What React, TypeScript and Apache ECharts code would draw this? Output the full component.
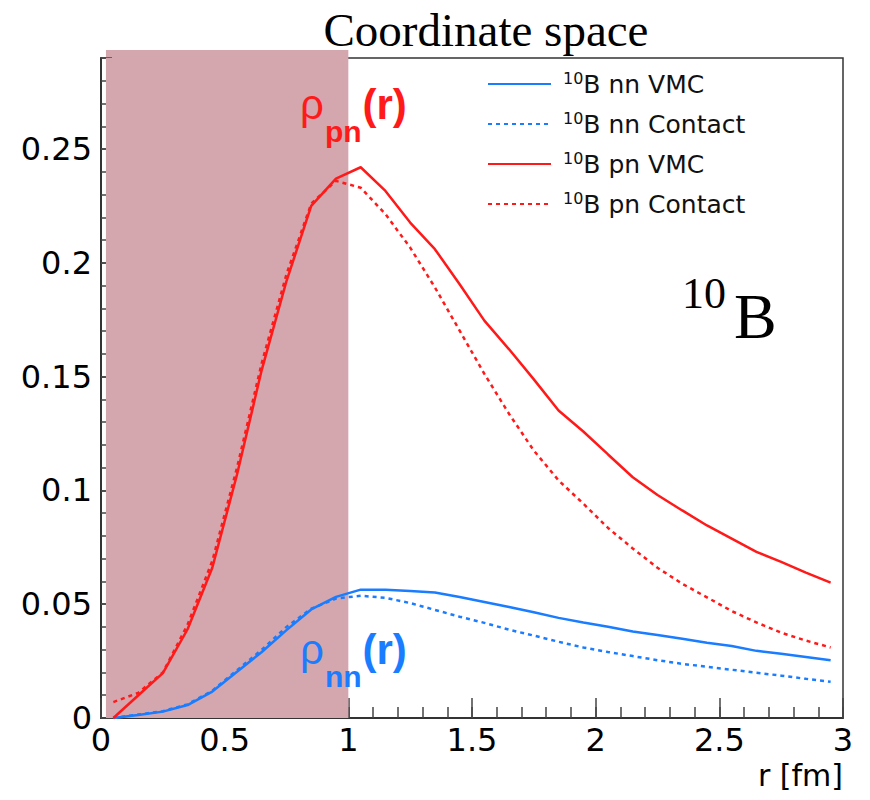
import React, { useEffect, useRef } from 'react';
import * as echarts from 'echarts';

// r [fm] sample points
const rValues = [0.05, 0.15, 0.25, 0.35, 0.45, 0.55, 0.65, 0.75, 0.85, 0.95, 1.05, 1.15, 1.25, 1.35, 1.45, 1.55, 1.65, 1.75, 1.85, 1.95, 2.05, 2.15, 2.25, 2.35, 2.45, 2.55, 2.65, 2.75, 2.85, 2.95];

const nnVMC = [0, 0.0013, 0.0028, 0.0057, 0.0116, 0.0203, 0.029, 0.0386, 0.0477, 0.0532, 0.0564, 0.0564, 0.0558, 0.0551, 0.0532, 0.051, 0.0488, 0.0465, 0.044, 0.042, 0.0401, 0.038, 0.0365, 0.0348, 0.0331, 0.0316, 0.0295, 0.0282, 0.0268, 0.0254];
const nnContact = [0, 0.0015, 0.003, 0.006, 0.012, 0.021, 0.03, 0.04, 0.048, 0.0525, 0.0537, 0.0528, 0.0505, 0.0475, 0.0445, 0.0418, 0.0388, 0.0362, 0.0335, 0.031, 0.029, 0.0272, 0.0254, 0.0238, 0.0225, 0.0212, 0.0199, 0.0186, 0.0172, 0.0159];
const pnVMC = [0, 0.0099, 0.0197, 0.039, 0.066, 0.107, 0.153, 0.192, 0.225, 0.237, 0.242, 0.2316, 0.2177, 0.206, 0.1906, 0.1746, 0.162, 0.1488, 0.1351, 0.1259, 0.1158, 0.1058, 0.098, 0.0912, 0.0846, 0.0788, 0.073, 0.0686, 0.0639, 0.0595];
const pnContact = [0.007, 0.011, 0.02, 0.041, 0.069, 0.11, 0.156, 0.195, 0.226, 0.236, 0.233, 0.2214, 0.2067, 0.1892, 0.1702, 0.1512, 0.1336, 0.1175, 0.1044, 0.0942, 0.0835, 0.0745, 0.066, 0.059, 0.053, 0.047, 0.042, 0.0375, 0.034, 0.031];

const seriesNames = ['10B nn VMC', '10B nn Contact', '10B pn VMC', '10B pn Contact'];
const shadeRange = [0.02, 1];
const yMax = 0.29;
const shadeTop = 0.2935;

const BLUE = '#1a7dff';
const RED = '#ff1a1a';
const PINK = '#d4a6ae';

const zip = (ys: number[]) => rValues.map((r, i) => [r, ys[i]]);

export default function App() {
  const ref = useRef<HTMLDivElement>(null);
  useEffect(() => {
    if (!ref.current) return;
    const chart = echarts.init(ref.current, null, { renderer: 'svg' });
    const lineSeries = (name: string, ys: number[], color: string, dashed: boolean) => ({
      type: 'line',
      name,
      data: zip(ys),
      symbol: 'none',
      smooth: false,
      z: 3,
      lineStyle: { color, width: 2.5, type: dashed ? [4, 4] : 'solid' },
      itemStyle: { color },
    });
    const axisFont = { fontFamily: 'DejaVu Sans', fontSize: 32, color: '#000' };
    const labelRich = (color: string) => ({
      a: { fontFamily: 'Liberation Sans', fontSize: 42, fill: color, lineHeight: 48, verticalAlign: 'top' },
      b: { fontFamily: 'Liberation Sans', fontWeight: 'bold', fontSize: 30, fill: color, lineHeight: 30, verticalAlign: 'top', padding: [33, 1, 0, 1] },
      c: { fontFamily: 'Liberation Sans', fontWeight: 'bold', fontSize: 42, fill: color, lineHeight: 48, verticalAlign: 'top' },
    });
    chart.setOption({
      animation: false,
      title: {
        text: 'Coordinate space',
        left: 481,
        textAlign: 'center',
        top: 1,
        textStyle: { fontFamily: 'Liberation Serif', fontSize: 47, fontWeight: 'normal', color: '#000' },
      },
      grid: { left: 101, top: 58, right: 27, bottom: 82, show: true, borderColor: '#333', borderWidth: 1.5, backgroundColor: 'transparent' },
      legend: {
        data: seriesNames,
        orient: 'vertical',
        left: 482,
        top: 65,
        itemWidth: 63,
        itemHeight: 14,
        itemGap: 12,
        itemStyle: { opacity: 0 },
        formatter: (name: string) => '{s|10}' + name.slice(2),
        textStyle: {
          fontFamily: 'DejaVu Sans',
          fontSize: 25,
          color: '#111',
          lineHeight: 28,
          padding: [0, 0, 0, 7],
          rich: {
            s: { fontFamily: 'DejaVu Sans', fontSize: 16, color: '#111', verticalAlign: 'top', lineHeight: 13 },
          },
        },
      },
      xAxis: [
        {
          type: 'value', min: 0, max: 3, interval: 0.5,
          axisLine: { show: true, onZero: false, lineStyle: { color: '#333', width: 2 } },
          axisTick: { inside: true, length: 20, lineStyle: { color: '#444', width: 1.5 } },
          axisLabel: { ...axisFont, margin: 6, formatter: (v: number) => String(+v.toFixed(2)) },
          splitLine: { show: false },
        },
        {
          type: 'value', min: 0, max: 3, interval: 0.1, position: 'bottom',
          axisLine: { show: false },
          axisTick: { inside: true, length: 11, lineStyle: { color: '#444', width: 1.5 } },
          axisLabel: { show: false },
          splitLine: { show: false },
        },
      ],
      yAxis: [
        {
          type: 'value', min: 0, max: yMax, interval: 0.05,
          axisLine: { show: true, onZero: false, lineStyle: { color: '#333', width: 2 } },
          axisTick: { inside: true, length: 20, lineStyle: { color: '#444', width: 1.5 } },
          axisLabel: { ...axisFont, margin: 9, showMaxLabel: false, formatter: (v: number) => String(+v.toFixed(2)) },
          splitLine: { show: false },
        },
        {
          type: 'value', min: 0, max: yMax, interval: 0.01, position: 'left',
          axisLine: { show: false },
          axisTick: { inside: true, length: 11, lineStyle: { color: '#444', width: 1.5 } },
          axisLabel: { show: false },
          splitLine: { show: false },
        },
      ],
      series: [
        {
          type: 'line',
          name: 'shade',
          data: [],
          z: 1,
          markArea: {
            silent: true,
            itemStyle: { color: PINK, opacity: 1 },
            data: [[{ xAxis: shadeRange[0], yAxis: 0 }, { xAxis: shadeRange[1], yAxis: yMax }]],
          },
        },
        lineSeries(seriesNames[0], nnVMC, BLUE, false),
        lineSeries(seriesNames[1], nnContact, BLUE, true),
        lineSeries(seriesNames[2], pnVMC, RED, false),
        lineSeries(seriesNames[3], pnContact, RED, true),
      ],
      graphic: [
        {
          type: 'text', left: 300, top: 83, z: 10,
          style: { text: '{a|ρ}{b|pn}{c|(r)}', rich: labelRich(RED) },
        },
        {
          type: 'text', left: 300, top: 628, z: 10,
          style: { text: '{a|ρ}{b|nn}{c|(r)}', rich: labelRich(BLUE) },
        },
        {
          type: 'text', left: 682, top: 271, z: 10,
          style: {
            text: '{s|10}{b|B}',
            rich: {
              s: { fontFamily: 'Liberation Serif', fontSize: 44, fill: '#000', lineHeight: 40, verticalAlign: 'top', padding: [0, 8, 0, 0] },
              b: { fontFamily: 'Liberation Serif', fontSize: 64, fill: '#000', lineHeight: 70, verticalAlign: 'top', padding: [13, 0, 0, 0] },
            },
          },
        },
        {
          type: 'text', right: 27, top: 760, z: 10,
          style: { text: 'r [fm]', font: '30px "DejaVu Sans"', fill: '#000' },
        },
      ],
    });
    // strip of the shaded band that pokes above the frame, placed through the axis scales
    const p0 = chart.convertToPixel({ gridIndex: 0 }, [shadeRange[0], shadeTop]) as number[];
    const p1 = chart.convertToPixel({ gridIndex: 0 }, [shadeRange[1], yMax]) as number[];
    if (p0 && p1) {
      chart.setOption({
        graphic: [
          {
            id: 'shadeTopStrip', type: 'rect', z: 0,
            shape: { x: p0[0], y: p0[1], width: p1[0] - p0[0], height: p1[1] - p0[1] },
            style: { fill: PINK },
          },
        ],
      });
    }
    return () => chart.dispose();
  }, []);
  return <div ref={ref} style={{ position: 'absolute', left: 0, top: 0, width: 870, height: 800 }} />;
}
